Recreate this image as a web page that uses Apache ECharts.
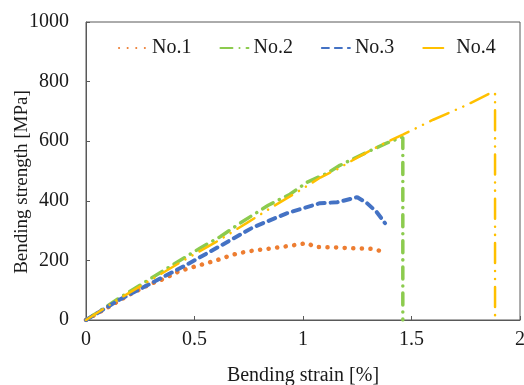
<!DOCTYPE html>
<html><head><meta charset="utf-8">
<script src="https://cdn.jsdelivr.net/npm/echarts@6/dist/echarts.min.js"></script>
<style>html,body{margin:0;padding:0;background:#fff}#c{width:524px;height:385px}</style>
</head><body><div id="c"></div>
<script>
const seriesNames = ['No.1','No.2','No.3','No.4'];
const no1 = [[0,0],[0.1,42],[0.2,85],[0.3,122],[0.355,137],[0.43,164],[0.51,181],[0.6,200],[0.66,215],[0.7,224],[0.78,234],[0.86,241],[0.94,249],[1.02,258],[1.055,245],[1.14,244],[1.217,241],[1.29,240],[1.33,238],[1.37,228]];
const no2 = [[0,0],[0.15,72],[0.3,140],[0.4,185],[0.525,241],[0.62,280],[0.71,325],[0.84,385],[0.94,422],[1.018,462],[1.11,492],[1.17,519],[1.3,565],[1.38,592],[1.45,612],[1.46,612],[1.46,0]];
const no3 = [[0,0],[0.152,67],[0.31,127],[0.46,184],[0.61,245],[0.77,311],[0.925,358],[1.078,392],[1.157,395],[1.25,412],[1.295,392],[1.34,362],[1.378,325]];
const no4 = [[0,0],[0.15,70],[0.3,135],[0.45,200],[0.6,262],[0.74,325],[0.86,380],[0.986,435],[1.08,478],[1.157,506],[1.25,545],[1.355,586],[1.46,622],[1.6,672],[1.75,720],[1.86,760],[1.885,762],[1.885,0]];
const xTicks = [0,0.5,1,1.5,2];
const yTicks = [0,200,400,600,800,1000];
const xTitle = 'Bending strain [%]';
const yTitle = 'Bending strength [MPa]';

const font = 'Liberation Serif';
const txt = '#1a1a1a';
const chart = echarts.init(document.getElementById('c'));
const mk = (name, data, color, width, dash) => ({
  name, type:'line', data, symbol:'none', smooth:false,
  lineStyle:{color, width, type:dash, cap:'round'}, itemStyle:{color}
});
chart.setOption({
  animation:false,
  textStyle:{fontFamily:font},
  grid:{left:86,right:4,top:22,bottom:65,show:true,borderColor:'#595959',borderWidth:1,
    containLabel:false,outerBoundsMode:'none'},
  legend:{top:33,left:113,itemWidth:28,itemHeight:10,itemGap:28,
    itemStyle:{opacity:0},
    textStyle:{fontFamily:font,fontSize:20,color:txt},
    data:seriesNames},
  graphic:[{type:'text',x:22,y:182,rotation:Math.PI/2,
    style:{text:yTitle,font:'19px "Liberation Serif"',fill:txt,align:'center',verticalAlign:'middle'}}],
  xAxis:{type:'value',min:0,max:2,interval:0.5,
    name:xTitle,nameLocation:'middle',nameGap:46,
    nameTextStyle:{fontFamily:font,fontSize:20,color:txt},
    axisLine:{show:true,lineStyle:{color:'#595959',width:1}},
    axisTick:{show:true,inside:true,length:4,lineStyle:{color:'#595959'}},
    splitLine:{show:false},
    axisLabel:{fontFamily:font,fontSize:20,color:txt,margin:10,
      formatter:v=>String(v)}},
  yAxis:{type:'value',min:0,max:1000,interval:200,
    axisLine:{show:true,lineStyle:{color:'#595959',width:1}},
    axisTick:{show:true,inside:true,length:4,lineStyle:{color:'#595959'}},
    splitLine:{show:false},
    axisLabel:{fontFamily:font,fontSize:20,color:txt,margin:17,
      formatter:v=>String(v)}},
  series:[
    mk('No.1',no1,'#ED7D31',4.5,[0.1,8.5]),
    mk('No.2',no2,'#8CCB4E',3.5,[12,7,0.1,7]),
    mk('No.3',no3,'#4472C4',4,[7,6]),
    mk('No.4',no4,'#FFC000',2.5,[20,8,0.1,8,0.1,8])
  ]
});
</script></body></html>
